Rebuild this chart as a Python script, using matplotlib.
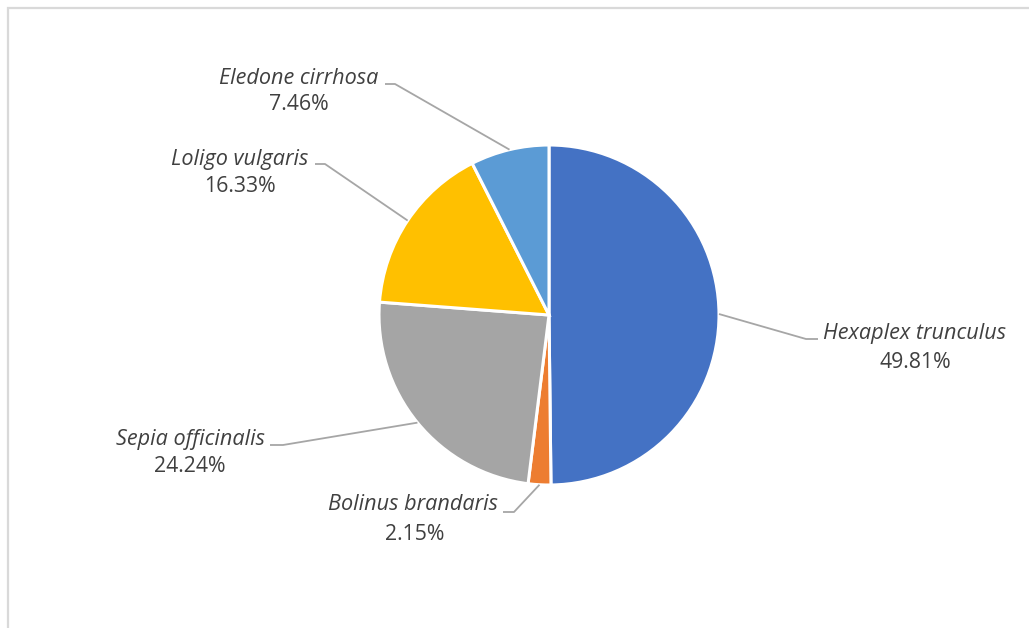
import numpy as np
import matplotlib
matplotlib.use("Agg")
import matplotlib.pyplot as plt
from matplotlib.patches import Rectangle

species = ["Hexaplex trunculus", "Bolinus brandaris", "Sepia officinalis",
           "Loligo vulgaris", "Eledone cirrhosa"]
percent = [49.81, 2.15, 24.24, 16.33, 7.46]
colors = ["#4472C4", "#ED7D31", "#A5A5A5", "#FFC000", "#5B9BD5"]

W, H = 1029, 628
fig = plt.figure(figsize=(W / 100, H / 100), dpi=100)
ax = fig.add_axes([0, 0, 1, 1])
ax.set_xlim(0, W)
ax.set_ylim(0, H)
ax.set_aspect("equal")
ax.axis("off")

def Y(y):
    return H - y

# chart frame
fig.patches.append(Rectangle((7.5 / W, -0.1), 1.2, (H - 7.5) / H + 0.1,
                             transform=fig.transFigure, fill=False,
                             edgecolor="#D9D9D9", linewidth=1.6, zorder=0))

cx, cy, r = 549, 315, 170
wedges, _ = ax.pie(percent, colors=colors, startangle=90, counterclock=False,
                   center=(cx, Y(cy)), radius=r, normalize=True,
                   wedgeprops=dict(edgecolor="white", linewidth=2.2))
ax.set_xlim(0, W)
ax.set_ylim(0, H)

# label layout (pixel positions, top-origin)
elbow = [(806, 339), (514, 512), (283, 445), (325, 164), (395, 84)]
tail = [(818, 339), (503, 512), (270, 445), (315, 164), (385, 84)]
name_pos = [(915, 333), (413, 505), (190, 440), (240, 160), (299, 78)]
pct_pos = [(915, 362), (415, 534), (190, 467), (240, 186), (299, 104)]

fam = ["Open Sans", "DejaVu Sans"]
tc = "#404040"
for w, e, t, npos, ppos, name, p in zip(wedges, elbow, tail, name_pos,
                                        pct_pos, species, percent):
    ang = np.deg2rad((w.theta1 + w.theta2) / 2)
    sx = cx + r * np.cos(ang)
    sy = Y(cy) + r * np.sin(ang)
    ax.plot([sx, e[0], t[0]], [sy, Y(e[1]), Y(t[1])], color="#A6A6A6",
            linewidth=1.3, solid_capstyle="butt", zorder=3)
    ax.text(npos[0], Y(npos[1]), name, ha="center", va="center",
            fontsize=15.6, style="italic", color=tc, family=fam)
    ax.text(ppos[0], Y(ppos[1]), f"{p:.2f}%", ha="center", va="center",
            fontsize=15.3, color=tc, family=fam)

fig.savefig("out.png", dpi=100, facecolor="white")
